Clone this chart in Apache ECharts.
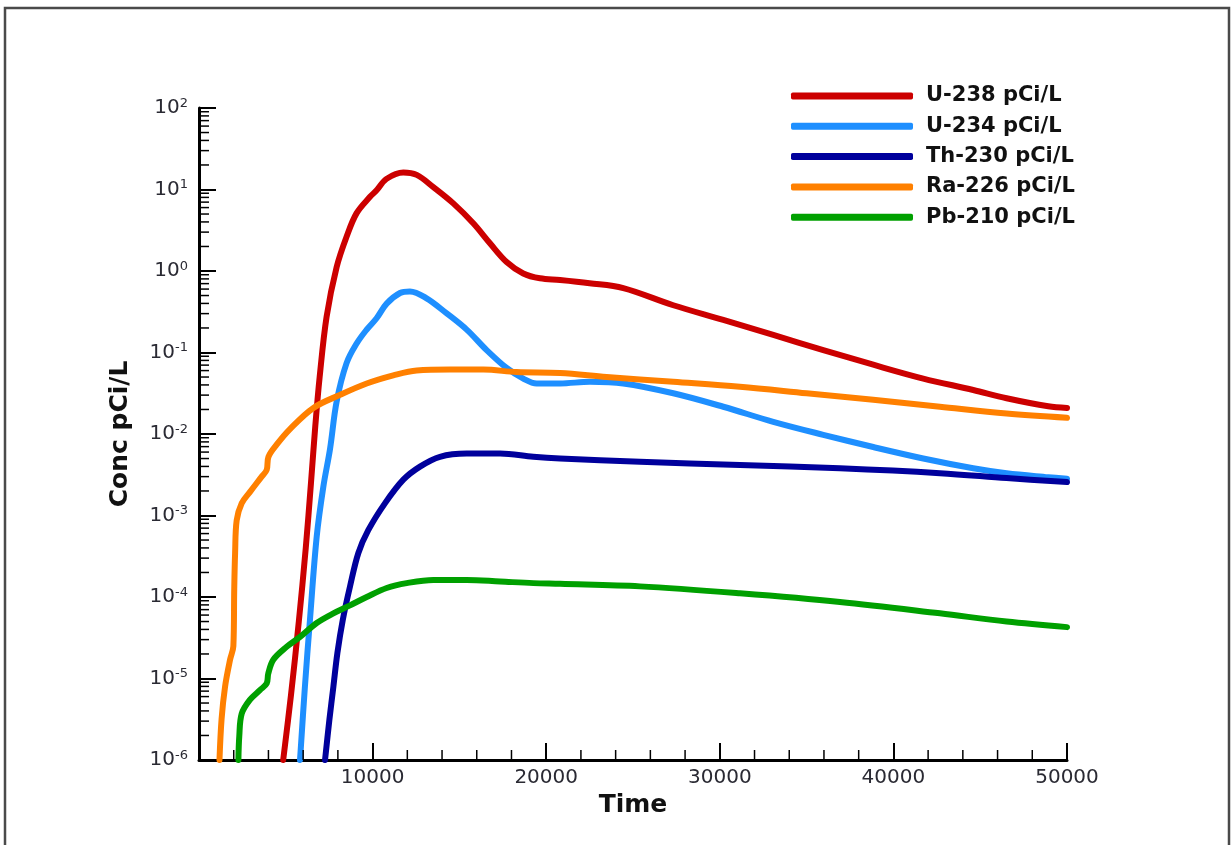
<!DOCTYPE html>
<html>
<head>
<meta charset="utf-8">
<script src="https://cdn.jsdelivr.net/npm/echarts@6/dist/echarts.min.js"></script>
<style>
html,body{margin:0;padding:0;background:#fff;}
#chart{width:1231px;height:845px;}
</style>
</head>
<body>
<div id="chart"></div>
<script>
// ---- data (time, concentration in pCi/L) ----
const seriesNames = ['U-238 pCi/L', 'U-234 pCi/L', 'Th-230 pCi/L', 'Ra-226 pCi/L', 'Pb-210 pCi/L'];
const seriesColors = ['#cc0000', '#1e8fff', '#00009c', '#ff8000', '#00a000'];

const u238Time = [4850,5300,5750,6150,6450,6700,6950,7350,7930,8500,9080,9850,10230,10800,11770,12540,13500,14650,15800,16760,17720,18680,19640,20800,22500,24440,27320,30200,33080,35960,38840,41720,44600,46520,48920,50000];
const u238Conc = [1e-6,6.3e-6,5.0e-5,4.0e-4,2.5e-3,0.0126,0.050,0.275,1.12,2.63,5.13,8.13,9.77,13.5,16.2,15.1,10.7,6.76,3.85,2.19,1.29,0.933,0.813,0.776,0.708,0.617,0.380,0.251,0.164,0.107,0.0708,0.0479,0.0347,0.0275,0.0219,0.0209];

const u234Time = [5820,6100,6390,6780,7160,7550,7930,8500,9080,9660,10230,10810,11580,12150,13110,14270,15420,16570,17720,18680,19450,20800,22520,24440,27320,30200,33080,35960,38840,41720,44600,46520,48920,50000];
const u234Conc = [1e-6,7.9e-6,5.2e-5,5.5e-4,2.24e-3,6.6e-3,0.0251,0.0741,0.129,0.191,0.263,0.398,0.537,0.562,0.462,0.302,0.191,0.107,0.0646,0.0479,0.0417,0.0417,0.0437,0.0417,0.0316,0.0216,0.0141,0.00977,0.00692,0.00501,0.0038,0.0033,0.00295,0.00282];

const th230Time = [7260,7510,7740,7970,8280,8700,9180,9750,10710,11770,12730,13880,15420,17340,19260,20800,25400,31160,36920,42680,46520,50000];
const th230Conc = [1e-6,3.1e-6,7.9e-6,2.04e-5,5.2e-5,1.35e-4,3.47e-4,6.6e-4,1.41e-3,2.75e-3,3.98e-3,5.25e-3,5.75e-3,5.75e-3,5.25e-3,5.0e-3,4.57e-3,4.17e-3,3.8e-3,3.31e-3,2.88e-3,2.57e-3];

const ra226Time = [1180,1300,1500,1790,1980,2030,2080,2170,2460,2940,3610,3900,4000,4470,5240,6590,8120,9660,11190,12540,14460,16380,18300,20800,23480,27320,31160,35000,38840,42680,46520,50000];
const ra226Conc = [1e-6,3.16e-6,7.9e-6,1.7e-5,2.5e-5,1.26e-4,3.47e-4,8.7e-4,1.41e-3,1.95e-3,3.0e-3,3.63e-3,5.25e-3,7.4e-3,0.0115,0.0209,0.0302,0.0417,0.0525,0.0603,0.0617,0.0617,0.0575,0.0562,0.0501,0.0437,0.038,0.0316,0.0263,0.0216,0.0178,0.0158];

const pb210Time = [2270,2320,2460,2940,3510,3900,3990,4280,5050,5820,6780,7740,8700,9660,10810,11960,13500,15420,17340,19260,20800,25400,31160,36920,42680,46520,50000];
const pb210Conc = [1e-6,1.95e-6,3.7e-6,5.5e-6,7.2e-6,8.7e-6,1.15e-5,1.7e-5,2.45e-5,3.24e-5,4.8e-5,6.3e-5,7.9e-5,1.0e-4,1.29e-4,1.48e-4,1.62e-4,1.62e-4,1.55e-4,1.48e-4,1.45e-4,1.35e-4,1.11e-4,8.7e-5,6.3e-5,5.0e-5,4.27e-5];

// axis tick structure
const xMin = 0, xMax = 50000, xStep = 10000, xMinorStep = 2000;
const yMin = 1e-6, yMax = 100;
const yDecadeExps = [-6,-5,-4,-3,-2,-1,0,1];
const yMinorMultipliers = [2,3,4,5,6,7,8,9];

const times = [u238Time, u234Time, th230Time, ra226Time, pb210Time];
const concs = [u238Conc, u234Conc, th230Conc, ra226Conc, pb210Conc];

function zip(t, c) { return t.map((x, i) => [x, c[i]]); }

const chart = echarts.init(document.getElementById('chart'), null, {renderer: 'canvas'});

const textColor = '#2a2a33';
const font = 'DejaVu Sans';

const series = seriesNames.map((name, i) => ({
  name: name,
  type: 'line',
  data: zip(times[i], concs[i]),
  showSymbol: false,
  symbol: 'none',
  smooth: 0.35,
  clip: true,
  lineStyle: {width: 6, color: seriesColors[i], cap: 'round', join: 'round'},
  itemStyle: {color: seriesColors[i]},
  emphasis: {disabled: true},
  animation: false
}));

const option = {
  animation: false,
  backgroundColor: '#ffffff',
  grid: {left: 199, top: 108, right: 164, bottom: 85, containLabel: false, outerBoundsMode: 'none'},
  legend: {
    orient: 'vertical',
    left: 786,
    top: 80,
    data: seriesNames,
    icon: 'roundRect',
    itemWidth: 122,
    itemHeight: 7,
    itemGap: 8.3,
    selectedMode: false,
    textStyle: {fontFamily: font, fontWeight: 'bold', fontSize: 21, color: '#111', lineHeight: 22, padding: [0, 0, 0, 8]}
  },
  xAxis: {
    type: 'value',
    min: xMin,
    max: xMax,
    interval: xStep,
    name: 'Time',
    nameLocation: 'middle',
    nameGap: 32,
    nameTextStyle: {fontFamily: font, fontWeight: 'bold', fontSize: 25, color: '#111'},
    axisLine: {show: true, onZero: false, lineStyle: {color: '#000', width: 3}},
    axisTick: {show: true, inside: true, length: 17, lineStyle: {color: '#000', width: 2}},
    minorTick: {show: false},
    splitLine: {show: false},
    minorSplitLine: {show: false},
    axisLabel: {
      margin: 8,
      fontFamily: font,
      fontSize: 20,
      color: textColor,
      showMinLabel: true,
      showMaxLabel: true,
      formatter: v => (v === 0 ? '' : String(v))
    }
  },
  yAxis: {
    type: 'log',
    logBase: 10,
    min: yMin,
    max: yMax,
    splitNumber: 8,
    name: 'Conc pCi/L',
    nameLocation: 'middle',
    nameGap: 66,
    nameRotate: 90,
    nameTextStyle: {fontFamily: font, fontWeight: 'bold', fontSize: 25, color: '#111'},
    axisLine: {show: true, onZero: false, lineStyle: {color: '#000', width: 3}},
    axisTick: {show: true, inside: true, length: 17, lineStyle: {color: '#000', width: 2}},
    minorTick: {show: false},
    splitLine: {show: false},
    axisLabel: {
      margin: 11,
      formatter: v => '{b|10}{s|' + Math.round(Math.log10(v)) + '}',
      rich: {
        b: {fontFamily: font, fontSize: 20, color: textColor, lineHeight: 22},
        s: {fontFamily: font, fontSize: 13, color: textColor, lineHeight: 13, verticalAlign: 'top'}
      }
    }
  },
  series: series
};

chart.setOption(option);

// minor ticks placed through the axis scales
const minorLines = [];
yDecadeExps.forEach(e => {
  yMinorMultipliers.forEach(k => {
    const v = k * Math.pow(10, e);
    if (v >= yMax) return;
    const p = chart.convertToPixel({xAxisIndex: 0, yAxisIndex: 0}, [xMin, v]);
    minorLines.push({
      type: 'line', silent: true, z: 50,
      shape: {x1: p[0], y1: p[1], x2: p[0] + 10, y2: p[1]},
      style: {stroke: '#000', lineWidth: 1.5}
    });
  });
});
for (let t = xMin + xMinorStep; t < xMax; t += xMinorStep) {
  if (t % xStep === 0) continue;
  const p = chart.convertToPixel({xAxisIndex: 0, yAxisIndex: 0}, [t, yMin]);
  minorLines.push({
    type: 'line', silent: true, z: 50,
    shape: {x1: p[0], y1: p[1], x2: p[0], y2: p[1] - 10},
    style: {stroke: '#000', lineWidth: 1.5}
  });
}

chart.setOption({
  graphic: [
    {
      type: 'rect',
      silent: true,
      z: 100,
      shape: {x: 5, y: 8, width: 1224, height: 870},
      style: {fill: 'none', stroke: '#4a4a4a', lineWidth: 2.5}
    }
  ].concat(minorLines)
});
</script>
</body>
</html>
